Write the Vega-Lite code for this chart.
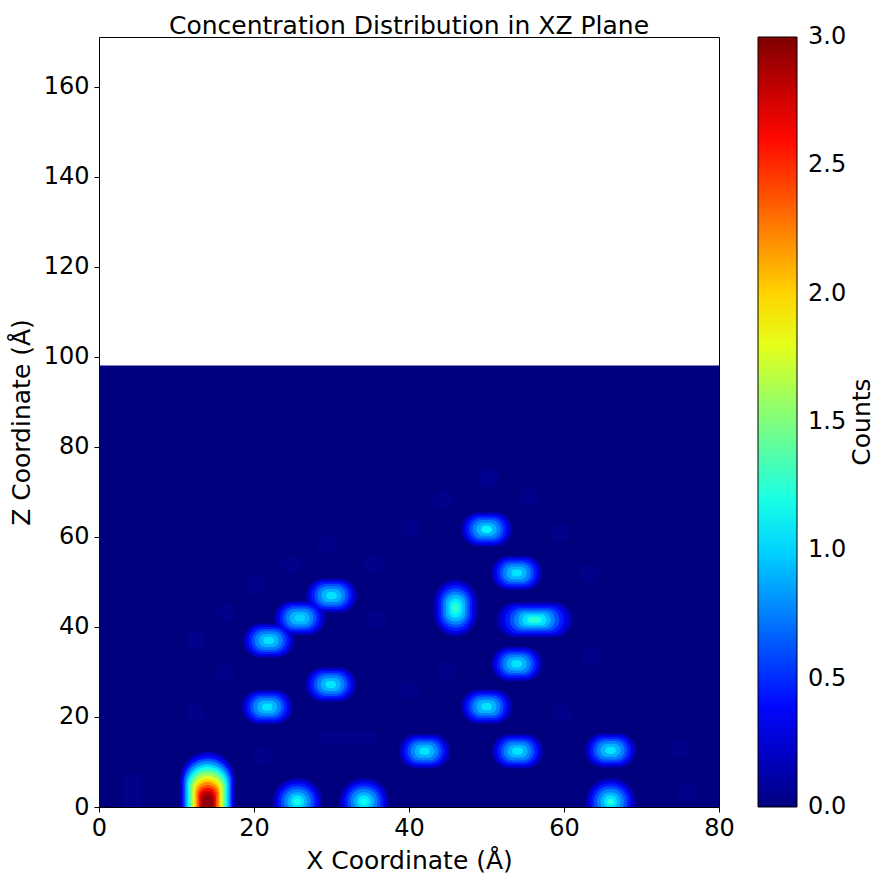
{
  "$schema": "https://vega.github.io/schema/vega-lite/v6.json",
  "description": "Concentration distribution in the XZ plane, contour bands read from the reference",
  "width": 620,
  "height": 770,
  "autosize": {"type": "none"},
  "padding": {"left": 99, "top": 37, "right": 166, "bottom": 76},
  "background": "white",
  "title": {
    "text": "Concentration Distribution in XZ Plane",
    "fontSize": 25,
    "fontWeight": "normal",
    "color": "black",
    "baseline": "bottom",
    "offset": -27,
    "anchor": "middle",
    "frame": "group"
  },
  "datasets": {
    "bg": [
      {"x0": 0, "x1": 80, "z0": 0, "z1": 98.1, "c": 0}
    ],
    "blobs": [
      {"x0": 3.1, "x1": 5.5, "z0": -0.5, "z1": 7.5, "c": 0.03},
      {"x0": 18.9, "x1": 21.5, "z0": 47.0, "z1": 51.0, "c": 0.03},
      {"x0": 23.5, "x1": 26.1, "z0": 51.9, "z1": 55.9, "c": 0.03},
      {"x0": 28.0, "x1": 30.6, "z0": 56.3, "z1": 60.3, "c": 0.03},
      {"x0": 34.0, "x1": 36.6, "z0": 51.9, "z1": 55.9, "c": 0.03},
      {"x0": 15.1, "x1": 17.7, "z0": 41.2, "z1": 45.2, "c": 0.03},
      {"x0": 34.5, "x1": 37.1, "z0": 39.6, "z1": 43.6, "c": 0.03},
      {"x0": 11.2, "x1": 13.8, "z0": 35.2, "z1": 39.2, "c": 0.03},
      {"x0": 15.1, "x1": 17.7, "z0": 27.8, "z1": 31.8, "c": 0.03},
      {"x0": 11.2, "x1": 13.8, "z0": 18.9, "z1": 22.9, "c": 0.03},
      {"x0": 19.8, "x1": 22.4, "z0": 9.2, "z1": 13.2, "c": 0.03},
      {"x0": 28.0, "x1": 36.0, "z0": 14.2, "z1": 16.8, "c": 0.03},
      {"x0": 43.5, "x1": 46.1, "z0": 28.5, "z1": 32.5, "c": 0.03},
      {"x0": 38.7, "x1": 41.3, "z0": 24.0, "z1": 28.0, "c": 0.03},
      {"x0": 58.6, "x1": 61.2, "z0": 18.9, "z1": 22.9, "c": 0.03},
      {"x0": 62.0, "x1": 64.6, "z0": 31.4, "z1": 35.4, "c": 0.03},
      {"x0": 62.0, "x1": 64.6, "z0": 50.0, "z1": 54.0, "c": 0.03},
      {"x0": 73.7, "x1": 76.3, "z0": 11.0, "z1": 15.0, "c": 0.03},
      {"x0": 74.5, "x1": 77.1, "z0": 1.0, "z1": 5.0, "c": 0.03},
      {"x0": 49.0, "x1": 51.6, "z0": 71.1, "z1": 75.1, "c": 0.05},
      {"x0": 43.2, "x1": 45.8, "z0": 66.3, "z1": 70.3, "c": 0.03},
      {"x0": 54.4, "x1": 57.0, "z0": 66.7, "z1": 70.7, "c": 0.03},
      {"x0": 39.0, "x1": 41.6, "z0": 60.0, "z1": 64.0, "c": 0.03},
      {"x0": 58.2, "x1": 60.8, "z0": 59.0, "z1": 63.0, "c": 0.03},

      {"x0": 18.4, "x1": 25.0, "z0": 18.4, "z1": 26.0, "c": 0.15},
      {"x0": 18.75, "x1": 24.65, "z0": 18.8, "z1": 25.6, "c": 0.3},
      {"x0": 19.1, "x1": 24.3, "z0": 19.2, "z1": 25.2, "c": 0.45},
      {"x0": 19.5, "x1": 23.9, "z0": 19.65, "z1": 24.75, "c": 0.6},
      {"x0": 19.9, "x1": 23.5, "z0": 20.15, "z1": 24.25, "c": 0.75},
      {"x0": 20.4, "x1": 23.0, "z0": 20.75, "z1": 23.65, "c": 0.9},
      {"x0": 21.0, "x1": 22.4, "z0": 21.4, "z1": 23.0, "c": 1.05},

      {"x0": 26.6, "x1": 33.2, "z0": 23.4, "z1": 31.0, "c": 0.15},
      {"x0": 26.95, "x1": 32.85, "z0": 23.8, "z1": 30.6, "c": 0.3},
      {"x0": 27.3, "x1": 32.5, "z0": 24.2, "z1": 30.2, "c": 0.45},
      {"x0": 27.7, "x1": 32.1, "z0": 24.65, "z1": 29.75, "c": 0.6},
      {"x0": 28.1, "x1": 31.7, "z0": 25.15, "z1": 29.25, "c": 0.75},
      {"x0": 28.6, "x1": 31.2, "z0": 25.75, "z1": 28.65, "c": 0.9},
      {"x0": 29.2, "x1": 30.6, "z0": 26.4, "z1": 28.0, "c": 1.05},

      {"x0": 18.6, "x1": 25.2, "z0": 33.2, "z1": 40.8, "c": 0.15},
      {"x0": 18.95, "x1": 24.85, "z0": 33.6, "z1": 40.4, "c": 0.3},
      {"x0": 19.3, "x1": 24.5, "z0": 34.0, "z1": 40.0, "c": 0.45},
      {"x0": 19.7, "x1": 24.1, "z0": 34.45, "z1": 39.55, "c": 0.6},
      {"x0": 20.1, "x1": 23.7, "z0": 34.95, "z1": 39.05, "c": 0.75},
      {"x0": 20.6, "x1": 23.2, "z0": 35.55, "z1": 38.45, "c": 0.9},
      {"x0": 21.2, "x1": 22.6, "z0": 36.2, "z1": 37.8, "c": 1.05},

      {"x0": 22.6, "x1": 29.2, "z0": 38.2, "z1": 45.8, "c": 0.15},
      {"x0": 22.95, "x1": 28.85, "z0": 38.6, "z1": 45.4, "c": 0.3},
      {"x0": 23.3, "x1": 28.5, "z0": 39.0, "z1": 45.0, "c": 0.45},
      {"x0": 23.7, "x1": 28.1, "z0": 39.45, "z1": 44.55, "c": 0.6},
      {"x0": 24.1, "x1": 27.7, "z0": 39.95, "z1": 44.05, "c": 0.75},
      {"x0": 24.6, "x1": 27.2, "z0": 40.55, "z1": 43.45, "c": 0.9},
      {"x0": 25.2, "x1": 26.6, "z0": 41.2, "z1": 42.8, "c": 1.0},

      {"x0": 26.7, "x1": 33.3, "z0": 43.2, "z1": 50.8, "c": 0.15},
      {"x0": 27.05, "x1": 32.95, "z0": 43.6, "z1": 50.4, "c": 0.3},
      {"x0": 27.4, "x1": 32.6, "z0": 44.0, "z1": 50.0, "c": 0.45},
      {"x0": 27.8, "x1": 32.2, "z0": 44.45, "z1": 49.55, "c": 0.6},
      {"x0": 28.2, "x1": 31.8, "z0": 44.95, "z1": 49.05, "c": 0.75},
      {"x0": 28.7, "x1": 31.3, "z0": 45.55, "z1": 48.45, "c": 0.9},
      {"x0": 29.3, "x1": 30.7, "z0": 46.2, "z1": 47.8, "c": 1.05},

      {"x0": 38.7, "x1": 45.3, "z0": 8.6, "z1": 16.2, "c": 0.15},
      {"x0": 39.05, "x1": 44.95, "z0": 9.0, "z1": 15.8, "c": 0.3},
      {"x0": 39.4, "x1": 44.6, "z0": 9.4, "z1": 15.4, "c": 0.45},
      {"x0": 39.8, "x1": 44.2, "z0": 9.85, "z1": 14.95, "c": 0.6},
      {"x0": 40.2, "x1": 43.8, "z0": 10.35, "z1": 14.45, "c": 0.75},
      {"x0": 40.7, "x1": 43.3, "z0": 10.95, "z1": 13.85, "c": 0.9},
      {"x0": 41.3, "x1": 42.7, "z0": 11.6, "z1": 13.2, "c": 1.05},

      {"x0": 50.7, "x1": 57.3, "z0": 8.6, "z1": 16.2, "c": 0.15},
      {"x0": 51.05, "x1": 56.95, "z0": 9.0, "z1": 15.8, "c": 0.3},
      {"x0": 51.4, "x1": 56.6, "z0": 9.4, "z1": 15.4, "c": 0.45},
      {"x0": 51.8, "x1": 56.2, "z0": 9.85, "z1": 14.95, "c": 0.6},
      {"x0": 52.2, "x1": 55.8, "z0": 10.35, "z1": 14.45, "c": 0.75},
      {"x0": 52.7, "x1": 55.3, "z0": 10.95, "z1": 13.85, "c": 0.9},
      {"x0": 53.3, "x1": 54.7, "z0": 11.6, "z1": 13.2, "c": 1.05},

      {"x0": 62.7, "x1": 69.3, "z0": 8.8, "z1": 16.4, "c": 0.15},
      {"x0": 63.05, "x1": 68.95, "z0": 9.2, "z1": 16.0, "c": 0.3},
      {"x0": 63.4, "x1": 68.6, "z0": 9.6, "z1": 15.6, "c": 0.45},
      {"x0": 63.8, "x1": 68.2, "z0": 10.05, "z1": 15.15, "c": 0.6},
      {"x0": 64.2, "x1": 67.8, "z0": 10.55, "z1": 14.65, "c": 0.75},
      {"x0": 64.7, "x1": 67.3, "z0": 11.15, "z1": 14.05, "c": 0.9},
      {"x0": 65.3, "x1": 66.7, "z0": 11.8, "z1": 13.4, "c": 1.05},

      {"x0": 46.7, "x1": 53.3, "z0": 18.5, "z1": 26.1, "c": 0.15},
      {"x0": 47.05, "x1": 52.95, "z0": 18.9, "z1": 25.7, "c": 0.3},
      {"x0": 47.4, "x1": 52.6, "z0": 19.3, "z1": 25.3, "c": 0.45},
      {"x0": 47.8, "x1": 52.2, "z0": 19.75, "z1": 24.85, "c": 0.6},
      {"x0": 48.2, "x1": 51.8, "z0": 20.25, "z1": 24.35, "c": 0.75},
      {"x0": 48.7, "x1": 51.3, "z0": 20.85, "z1": 23.75, "c": 0.9},
      {"x0": 49.3, "x1": 50.7, "z0": 21.5, "z1": 23.1, "c": 1.05},

      {"x0": 50.6, "x1": 57.2, "z0": 28.0, "z1": 35.6, "c": 0.15},
      {"x0": 50.95, "x1": 56.85, "z0": 28.4, "z1": 35.2, "c": 0.3},
      {"x0": 51.3, "x1": 56.5, "z0": 28.8, "z1": 34.8, "c": 0.45},
      {"x0": 51.7, "x1": 56.1, "z0": 29.25, "z1": 34.35, "c": 0.6},
      {"x0": 52.1, "x1": 55.7, "z0": 29.75, "z1": 33.85, "c": 0.75},
      {"x0": 52.6, "x1": 55.2, "z0": 30.35, "z1": 33.25, "c": 0.9},
      {"x0": 53.2, "x1": 54.6, "z0": 31.0, "z1": 32.6, "c": 1.05},

      {"x0": 50.6, "x1": 57.2, "z0": 48.2, "z1": 55.8, "c": 0.15},
      {"x0": 50.95, "x1": 56.85, "z0": 48.6, "z1": 55.4, "c": 0.3},
      {"x0": 51.3, "x1": 56.5, "z0": 49.0, "z1": 55.0, "c": 0.45},
      {"x0": 51.7, "x1": 56.1, "z0": 49.45, "z1": 54.55, "c": 0.6},
      {"x0": 52.1, "x1": 55.7, "z0": 49.95, "z1": 54.05, "c": 0.75},
      {"x0": 52.6, "x1": 55.2, "z0": 50.55, "z1": 53.45, "c": 0.9},
      {"x0": 53.2, "x1": 54.6, "z0": 51.2, "z1": 52.8, "c": 1.05},

      {"x0": 46.7, "x1": 53.3, "z0": 57.9, "z1": 65.5, "c": 0.15},
      {"x0": 47.05, "x1": 52.95, "z0": 58.3, "z1": 65.1, "c": 0.3},
      {"x0": 47.4, "x1": 52.6, "z0": 58.7, "z1": 64.7, "c": 0.45},
      {"x0": 47.8, "x1": 52.2, "z0": 59.15, "z1": 64.25, "c": 0.6},
      {"x0": 48.2, "x1": 51.8, "z0": 59.65, "z1": 63.75, "c": 0.75},
      {"x0": 48.7, "x1": 51.3, "z0": 60.25, "z1": 63.15, "c": 0.9},
      {"x0": 49.3, "x1": 50.7, "z0": 60.9, "z1": 62.5, "c": 1.1},

      {"x0": 43.2, "x1": 48.8, "z0": 37.9, "z1": 50.5, "c": 0.15},
      {"x0": 43.55, "x1": 48.45, "z0": 38.5, "z1": 49.9, "c": 0.3},
      {"x0": 43.85, "x1": 48.15, "z0": 39.1, "z1": 49.3, "c": 0.45},
      {"x0": 44.15, "x1": 47.85, "z0": 39.8, "z1": 48.6, "c": 0.6},
      {"x0": 44.45, "x1": 47.55, "z0": 40.5, "z1": 47.9, "c": 0.75},
      {"x0": 44.75, "x1": 47.25, "z0": 41.2, "z1": 47.2, "c": 0.9},
      {"x0": 45.1, "x1": 46.9, "z0": 42.0, "z1": 46.4, "c": 1.05},
      {"x0": 45.45, "x1": 46.55, "z0": 42.8, "z1": 45.6, "c": 1.2},
      {"x0": 45.75, "x1": 46.25, "z0": 43.5, "z1": 44.9, "c": 1.3},

      {"x0": 51.3, "x1": 61.1, "z0": 37.7, "z1": 45.5, "c": 0.15},
      {"x0": 51.85, "x1": 60.55, "z0": 38.15, "z1": 45.05, "c": 0.3},
      {"x0": 52.4, "x1": 60.0, "z0": 38.6, "z1": 44.6, "c": 0.45},
      {"x0": 53.0, "x1": 59.4, "z0": 39.05, "z1": 44.15, "c": 0.6},
      {"x0": 53.55, "x1": 58.85, "z0": 39.5, "z1": 43.7, "c": 0.75},
      {"x0": 54.1, "x1": 58.3, "z0": 39.95, "z1": 43.25, "c": 0.9},
      {"x0": 54.65, "x1": 57.75, "z0": 40.4, "z1": 42.8, "c": 1.05},
      {"x0": 55.25, "x1": 57.15, "z0": 40.85, "z1": 42.35, "c": 1.2},
      {"x0": 55.75, "x1": 56.65, "z0": 41.25, "z1": 41.95, "c": 1.3},

      {"x0": 22.4, "x1": 28.8, "z0": -4.0, "z1": 6.4, "c": 0.15},
      {"x0": 22.75, "x1": 28.45, "z0": -3.4, "z1": 5.8, "c": 0.3},
      {"x0": 23.1, "x1": 28.1, "z0": -2.8, "z1": 5.2, "c": 0.45},
      {"x0": 23.45, "x1": 27.75, "z0": -2.2, "z1": 4.6, "c": 0.6},
      {"x0": 23.85, "x1": 27.35, "z0": -1.6, "z1": 4.0, "c": 0.75},
      {"x0": 24.3, "x1": 26.9, "z0": -0.9, "z1": 3.3, "c": 0.9},
      {"x0": 24.75, "x1": 26.45, "z0": -0.2, "z1": 2.6, "c": 1.05},
      {"x0": 25.15, "x1": 26.05, "z0": 0.5, "z1": 1.9, "c": 1.2},

      {"x0": 31.0, "x1": 37.4, "z0": -4.0, "z1": 6.4, "c": 0.15},
      {"x0": 31.35, "x1": 37.05, "z0": -3.4, "z1": 5.8, "c": 0.3},
      {"x0": 31.7, "x1": 36.7, "z0": -2.8, "z1": 5.2, "c": 0.45},
      {"x0": 32.05, "x1": 36.35, "z0": -2.2, "z1": 4.6, "c": 0.6},
      {"x0": 32.45, "x1": 35.95, "z0": -1.6, "z1": 4.0, "c": 0.75},
      {"x0": 32.9, "x1": 35.5, "z0": -0.9, "z1": 3.3, "c": 0.9},
      {"x0": 33.35, "x1": 35.05, "z0": -0.2, "z1": 2.6, "c": 1.05},
      {"x0": 33.75, "x1": 34.65, "z0": 0.5, "z1": 1.9, "c": 1.15},

      {"x0": 62.8, "x1": 69.2, "z0": -4.0, "z1": 6.4, "c": 0.15},
      {"x0": 63.15, "x1": 68.85, "z0": -3.4, "z1": 5.8, "c": 0.3},
      {"x0": 63.5, "x1": 68.5, "z0": -2.8, "z1": 5.2, "c": 0.45},
      {"x0": 63.85, "x1": 68.15, "z0": -2.2, "z1": 4.6, "c": 0.6},
      {"x0": 64.25, "x1": 67.75, "z0": -1.6, "z1": 4.0, "c": 0.75},
      {"x0": 64.7, "x1": 67.3, "z0": -0.9, "z1": 3.3, "c": 0.9},
      {"x0": 65.15, "x1": 66.85, "z0": -0.2, "z1": 2.6, "c": 1.05},
      {"x0": 65.55, "x1": 66.45, "z0": 0.5, "z1": 1.9, "c": 1.2},
      {"x0": 65.75, "x1": 66.25, "z0": 0.8, "z1": 1.6, "c": 1.3},

      {"x0": 10.5, "x1": 17.5, "z0": -11.2, "z1": 12.2, "c": 0.2},
      {"x0": 10.7, "x1": 17.3, "z0": -10.5, "z1": 11.5, "c": 0.4},
      {"x0": 10.9, "x1": 17.1, "z0": -9.85, "z1": 10.85, "c": 0.6},
      {"x0": 11.1, "x1": 16.9, "z0": -9.2, "z1": 10.2, "c": 0.8},
      {"x0": 11.3, "x1": 16.7, "z0": -8.5, "z1": 9.5, "c": 1.0},
      {"x0": 11.5, "x1": 16.5, "z0": -7.9, "z1": 8.9, "c": 1.2},
      {"x0": 11.7, "x1": 16.3, "z0": -7.2, "z1": 8.2, "c": 1.4},
      {"x0": 11.9, "x1": 16.1, "z0": -6.6, "z1": 7.6, "c": 1.6},
      {"x0": 12.1, "x1": 15.9, "z0": -5.9, "z1": 6.9, "c": 1.8},
      {"x0": 12.3, "x1": 15.7, "z0": -5.2, "z1": 6.2, "c": 2.0},
      {"x0": 12.5, "x1": 15.5, "z0": -4.6, "z1": 5.6, "c": 2.2},
      {"x0": 12.7, "x1": 15.3, "z0": -3.9, "z1": 4.9, "c": 2.4},
      {"x0": 12.9, "x1": 15.1, "z0": -3.25, "z1": 4.25, "c": 2.6},
      {"x0": 13.1, "x1": 14.9, "z0": -2.6, "z1": 3.6, "c": 2.8},
      {"x0": 13.3, "x1": 14.7, "z0": -1.9, "z1": 2.9, "c": 2.95}
    ]
  },
  "encoding": {
    "x": {
      "field": "x0",
      "type": "quantitative",
      "scale": {"domain": [0, 80], "nice": false, "zero": false},
      "axis": {
        "title": "X Coordinate (Å)",
        "values": [0, 20, 40, 60, 80],
        "format": "d",
        "grid": false,
        "domain": false,
        "labelFlush": false,
        "labelOverlap": false,
        "labelFontSize": 24,
        "labelColor": "black",
        "labelPadding": 4,
        "tickColor": "black",
        "tickSize": 5,
        "titleFontSize": 25,
        "titleFontWeight": "normal",
        "titleColor": "black",
        "titlePadding": 8
      }
    },
    "x2": {"field": "x1"},
    "y": {
      "field": "z0",
      "type": "quantitative",
      "scale": {"domain": [0, 171.1], "nice": false, "zero": false},
      "axis": {
        "title": "Z Coordinate (Å)",
        "values": [0, 20, 40, 60, 80, 100, 120, 140, 160],
        "format": "d",
        "grid": false,
        "domain": false,
        "labelFlush": false,
        "labelOverlap": false,
        "labelFontSize": 24,
        "labelColor": "black",
        "labelPadding": 5,
        "tickColor": "black",
        "tickSize": 5,
        "titleFontSize": 25,
        "titleFontWeight": "normal",
        "titleColor": "black",
        "titlePadding": 9
      }
    },
    "y2": {"field": "z1"},
    "color": {
      "field": "c",
      "type": "quantitative",
      "scale": {
        "domain": [0, 0.375, 0.75, 1.125, 1.5, 1.875, 2.25, 2.625, 3],
        "range": ["#00007f", "#0000ff", "#007fff", "#00ffff", "#7fff7f", "#ffff00", "#ff7f00", "#ff0000", "#7f0000"],
        "interpolate": "rgb"
      },
      "legend": {
        "orient": "none",
        "legendX": 659,
        "legendY": 0,
        "direction": "vertical",
        "padding": 0,
        "gradientLength": 770,
        "gradientThickness": 39,
        "gradientStrokeColor": "black",
        "gradientStrokeWidth": 1,
        "values": [0.0001, 0.5, 1, 1.5, 2, 2.5, 2.9999],
        "format": ".1f",
        "labelFontSize": 24,
        "labelColor": "black",
        "labelOffset": 11,
        "labelOverlap": false,
        "title": "Counts",
        "titleFontSize": 25,
        "titleFontWeight": "normal",
        "titleColor": "black",
        "titleOrient": "right",
        "titleAnchor": "middle",
        "titlePadding": 29,
        "encode": {
          "title": {"update": {"angle": {"value": 270}}}
        }
      }
    }
  },
  "layer": [
    {"data": {"name": "bg"}, "mark": {"type": "rect"}},
    {
      "data": {"name": "blobs"},
      "mark": {"type": "rect", "cornerRadius": 999, "clip": true},
      "encoding": {"order": {"field": "c", "type": "quantitative"}}
    }
  ],
  "config": {
    "font": "DejaVu Sans",
    "view": {"stroke": "black", "strokeWidth": 1}
  }
}
